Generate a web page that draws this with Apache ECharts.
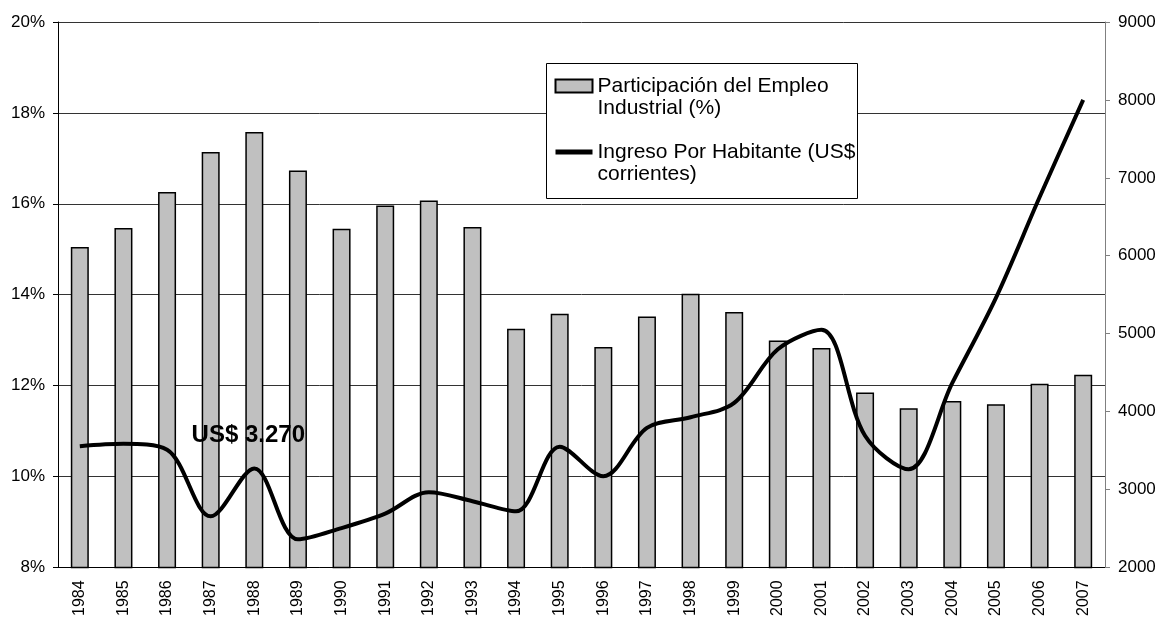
<!DOCTYPE html>
<html>
<head>
<meta charset="utf-8">
<script src="https://cdn.jsdelivr.net/npm/echarts@6/dist/echarts.min.js"></script>
<style>
  html, body { margin: 0; padding: 0; background: #fff; }
  #chart { width: 1159px; height: 619px; }
</style>
</head>
<body>
<div id="chart"></div>
<script>
// categorias (años)
const years = ['1984', '1985', '1986', '1987', '1988', '1989', '1990', '1991', '1992', '1993', '1994', '1995',
  '1996', '1997', '1998', '1999', '2000', '2001', '2002', '2003', '2004', '2005', '2006', '2007'];
// participacion del empleo industrial (%)
const empleo = [15.05, 15.47, 16.26, 17.14, 17.58, 16.73, 15.45, 15.96, 16.07, 15.49, 13.25, 13.58,
  12.85, 13.52, 14.02, 13.62, 12.99, 12.83, 11.85, 11.50, 11.66, 11.59, 12.04, 12.24];
// ingreso por habitante (US$ corrientes)
const ingreso = [3555, 3586, 3510, 2655, 3270, 2360, 2505, 2690, 2965, 2850, 2720, 3550,
  3170, 3790, 3927, 4111, 4800, 5050, 3690, 3260, 4368, 5460, 6750, 8000];

const nameBar = 'Participación del Empleo\nIndustrial (%)';
const nameLine = 'Ingreso Por Habitante (US$\ncorrientes)';
const font = 'Liberation Sans, Arial, sans-serif';

const chart = echarts.init(document.getElementById('chart'));
const option = {
  backgroundColor: '#fff',
  animation: false,
  textStyle: { fontFamily: font, color: '#000' },
  grid: { left: 58, right: 54, top: 22, bottom: 51 },
  graphic: [{
    // marco de la leyenda
    type: 'rect',
    left: 546, top: 63, z: 5,
    shape: { width: 311, height: 135 },
    style: { fill: '#fff', stroke: '#000', lineWidth: 1 }
  }],
  legend: {
    orient: 'vertical',
    left: 553, top: 53,
    padding: 0,
    itemGap: 0,
    itemWidth: 37,
    itemHeight: 13,
    z: 10,
    // linea vacia arriba para que el icono quede junto a la primera linea
    formatter: function (name) { return '\n' + name; },
    textStyle: { fontFamily: font, fontSize: 21, lineHeight: 22, color: '#000' },
    data: [
      { name: nameBar, icon: 'rect' },
      { name: nameLine, itemStyle: { opacity: 0 }, lineStyle: { width: 5 } }
    ]
  },
  xAxis: {
    type: 'category',
    data: years,
    axisLine: { lineStyle: { color: '#000', width: 1 } },
    axisTick: { length: 5, lineStyle: { color: '#000' } },
    axisLabel: { rotate: 90, interval: 0, fontSize: 16, color: '#000', margin: 13, fontFamily: font }
  },
  yAxis: [{
    type: 'value',
    min: 8, max: 20, interval: 2,
    axisLine: { show: true, lineStyle: { color: '#000' } },
    axisTick: { show: true, length: 5, lineStyle: { color: '#000' } },
    axisLabel: { formatter: '{value}%', fontSize: 17, color: '#000', margin: 13, fontFamily: font },
    splitLine: { lineStyle: { color: '#333', width: 1 } }
  }, {
    type: 'value',
    position: 'right',
    min: 2000, max: 9000, interval: 1000,
    axisLine: { show: true, lineStyle: { color: '#808080' } },
    axisTick: { show: true, length: 5, lineStyle: { color: '#808080' } },
    axisLabel: { formatter: function (v) { return String(v); }, fontSize: 17, color: '#000', margin: 13, fontFamily: font },
    splitLine: { show: false }
  }],
  series: [{
    name: nameBar,
    type: 'bar',
    yAxisIndex: 0,
    data: empleo,
    barWidth: 18,
    itemStyle: { color: '#c0c0c0', borderColor: '#000', borderWidth: 1.5 }
  }, {
    name: nameLine,
    type: 'line',
    yAxisIndex: 1,
    data: ingreso,
    smooth: 0.33,
    symbol: 'none',
    lineStyle: { color: '#000', width: 4 },
    itemStyle: { color: '#000' },
    z: 3,
    markPoint: {
      symbol: 'circle',
      symbolSize: 0,
      label: {
        show: true,
        formatter: 'US$ 3.270',
        fontSize: 24,
        fontWeight: 'bold',
        color: '#000',
        fontFamily: font,
        offset: [-6, -33]
      },
      data: [{ coord: ['1988', 3270] }]
    }
  }]
};
chart.setOption(option);
</script>
</body>
</html>
